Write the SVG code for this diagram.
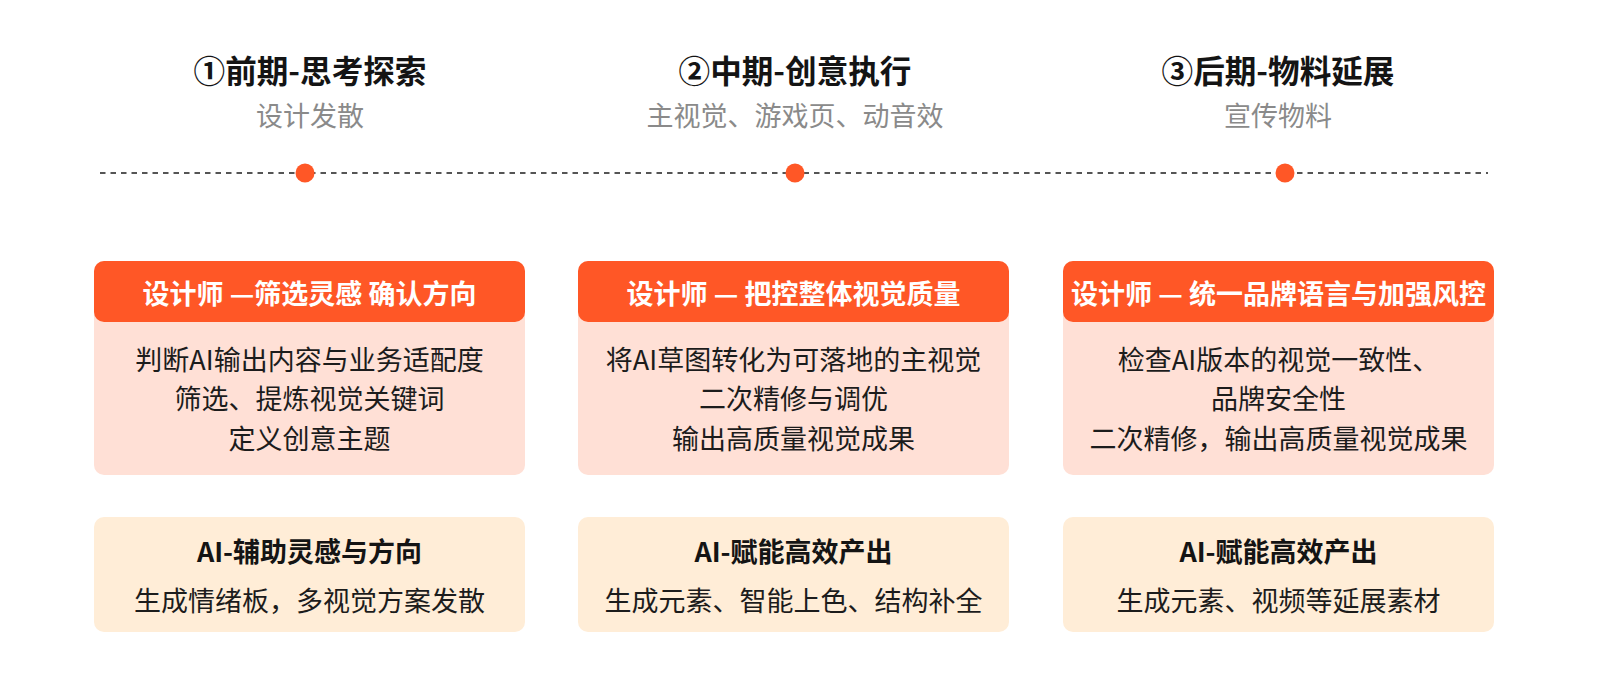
<svg xmlns="http://www.w3.org/2000/svg" width="1600" height="698" viewBox="0 0 1600 698">
<style>
text{font-family:"Noto Sans CJK SC","Noto Sans",sans-serif;text-anchor:middle}
.title{font-size:31.6px;font-weight:700;fill:#141414}
.sub{font-size:27px;fill:#8a8a8a}
.head{fill:#FF5726}
.body{fill:#FFE0D6}
.ai{fill:#FFEDD7}
.htxt{font-size:27px;font-weight:700;fill:#ffffff}
.ptxt{font-size:27px;fill:#1c1c1c}
.atit{font-size:27px;font-weight:700;fill:#141414}
.atxt{font-size:27px;fill:#1c1c1c}
.dot{fill:#FF5726}
</style>
<rect width="1600" height="698" fill="#ffffff"/>
<g id="connectors">
<line x1="100" y1="173" x2="1488" y2="173" stroke="#555555" stroke-width="2" stroke-dasharray="5.5 5"/>
</g>
<g id="stage1">
<text class="title" x="310" y="83">①前期-思考探索</text>
<text class="sub" x="310" y="126">设计发散</text>
<circle class="dot" cx="305" cy="173" r="9.5"/>
</g>
<g id="stage2">
<text class="title" x="795" y="83">②中期-创意执行</text>
<text class="sub" x="795" y="126">主视觉、游戏页、动音效</text>
<circle class="dot" cx="795" cy="173" r="9.5"/>
</g>
<g id="stage3">
<text class="title" x="1278" y="83">③后期-物料延展</text>
<text class="sub" x="1278" y="126">宣传物料</text>
<circle class="dot" cx="1285" cy="173" r="9.5"/>
</g>
<g id="card1">
<rect class="body" x="94" y="261" width="431" height="214" rx="10"/>
<rect class="head" x="94" y="261" width="431" height="61" rx="10"/>
<text class="htxt" x="309.5" y="303.5">设计师 —筛选灵感 确认方向</text>
<text class="ptxt" x="309.5" y="370">判断AI输出内容与业务适配度</text>
<text class="ptxt" x="309.5" y="409">筛选、提炼视觉关键词</text>
<text class="ptxt" x="309.5" y="449">定义创意主题</text>
</g>
<g id="ai1">
<rect class="ai" x="94" y="517" width="431" height="115" rx="10"/>
<text class="atit" x="309.5" y="562">AI-辅助灵感与方向</text>
<text class="atxt" x="309.5" y="611">生成情绪板，多视觉方案发散</text>
</g>
<g id="card2">
<rect class="body" x="578" y="261" width="431" height="214" rx="10"/>
<rect class="head" x="578" y="261" width="431" height="61" rx="10"/>
<text class="htxt" x="793.5" y="303.5">设计师 — 把控整体视觉质量</text>
<text class="ptxt" x="793.5" y="370">将AI草图转化为可落地的主视觉</text>
<text class="ptxt" x="793.5" y="409">二次精修与调优</text>
<text class="ptxt" x="793.5" y="449">输出高质量视觉成果</text>
</g>
<g id="ai2">
<rect class="ai" x="578" y="517" width="431" height="115" rx="10"/>
<text class="atit" x="793.5" y="562">AI-赋能高效产出</text>
<text class="atxt" x="793.5" y="611">生成元素、智能上色、结构补全</text>
</g>
<g id="card3">
<rect class="body" x="1063" y="261" width="431" height="214" rx="10"/>
<rect class="head" x="1063" y="261" width="431" height="61" rx="10"/>
<text class="htxt" x="1278.5" y="303.5">设计师 — 统一品牌语言与加强风控</text>
<text class="ptxt" x="1278.5" y="370">检查AI版本的视觉一致性、</text>
<text class="ptxt" x="1278.5" y="409">品牌安全性</text>
<text class="ptxt" x="1278.5" y="449">二次精修，输出高质量视觉成果</text>
</g>
<g id="ai3">
<rect class="ai" x="1063" y="517" width="431" height="115" rx="10"/>
<text class="atit" x="1278.5" y="562">AI-赋能高效产出</text>
<text class="atxt" x="1278.5" y="611">生成元素、视频等延展素材</text>
</g>
</svg>
